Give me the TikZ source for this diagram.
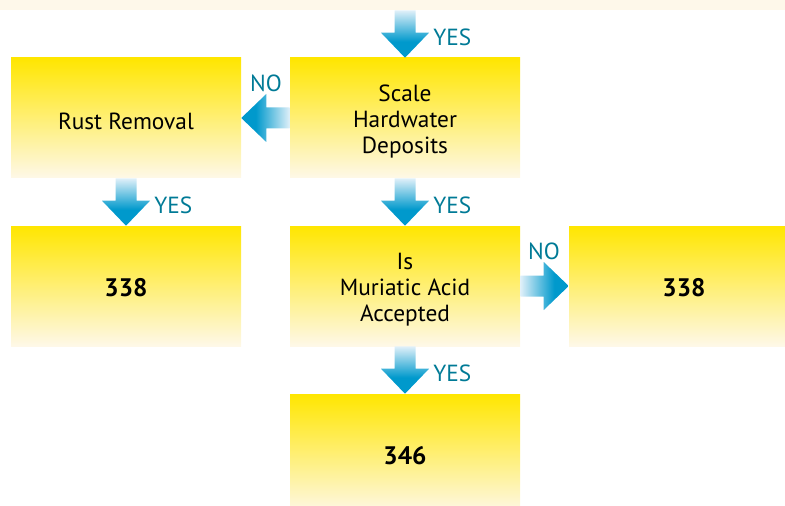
\documentclass[tikz,border=0pt]{standalone}
\usepackage{fontspec}
\setmainfont{PT Sans}
\usetikzlibrary{calc}
\definecolor{ablue}{RGB}{0,153,204}
\definecolor{alight}{RGB}{224,240,249}
\definecolor{byellow}{RGB}{255,230,0}
\definecolor{blight}{RGB}{254,248,232}
\definecolor{lbl}{RGB}{0,122,150}
\definecolor{bandc}{RGB}{254,248,234}
\pgfdeclareverticalshading{arrdn}{100bp}{color(0bp)=(ablue); color(25bp)=(ablue); color(42bp)=(ablue); color(75bp)=(alight); color(100bp)=(alight)}
\pgfdeclarehorizontalshading{arrlt}{100bp}{color(0bp)=(ablue); color(25bp)=(ablue); color(40bp)=(ablue); color(75bp)=(alight); color(100bp)=(alight)}
\pgfdeclarehorizontalshading{arrrt}{100bp}{color(0bp)=(alight); color(25bp)=(alight); color(60bp)=(ablue); color(75bp)=(ablue); color(100bp)=(ablue)}
\tikzset{
  box/.style={minimum width=172.5pt, minimum height=90pt, inner sep=0pt,
    top color=byellow, bottom color=blight},
  txt/.style={align=center, inner sep=0pt, text=black, yshift=-2.5pt,
    font=\fontsize{17.5}{19.5}\selectfont},
  num/.style={inner sep=0pt, text=black, yshift=-1.5pt,
    font=\fontsize{19}{21}\selectfont\bfseries},
  lab/.style={text=lbl, inner sep=0pt, font=\fontsize{17.5}{19.5}\selectfont},
  dnarrow/.style={shading=arrdn},
  ltarrow/.style={shading=arrlt},
  rtarrow/.style={shading=arrrt}
}
\newcommand\mydnarr[2]{%
  \shade[dnarrow] let \p1=(#1), \p2=(#2) in
    (\x1-7.875pt,\y1) -- (\x1+7.875pt,\y1) -- (\x1+7.875pt,\y2+18.75pt)
    -- (\x1+18pt,\y2+18.75pt) -- (\x1,\y2) -- (\x1-18pt,\y2+18.75pt)
    -- (\x1-7.875pt,\y2+18.75pt) -- cycle;}
\newcommand\myltarr[2]{%
  \shade[ltarrow] let \p1=(#1), \p2=(#2) in
    (\x1,\y1-7.875pt) -- (\x1,\y1+7.875pt) -- (\x2+18.75pt,\y1+7.875pt)
    -- (\x2+18.75pt,\y1+18pt) -- (\x2,\y1) -- (\x2+18.75pt,\y1-18pt)
    -- (\x2+18.75pt,\y1-7.875pt) -- cycle;}
\newcommand\myrtarr[2]{%
  \shade[rtarrow] let \p1=(#1), \p2=(#2) in
    (\x1,\y1-7.875pt) -- (\x1,\y1+7.875pt) -- (\x2-18.75pt,\y1+7.875pt)
    -- (\x2-18.75pt,\y1+18pt) -- (\x2,\y1) -- (\x2-18.75pt,\y1-18pt)
    -- (\x2-18.75pt,\y1-7.875pt) -- cycle;}
\begin{document}
\begin{tikzpicture}[x=0.75pt,y=-0.75pt]
\useasboundingbox (0,0) rectangle (785,506);
\clip (0,0) rectangle (785,506);
\node[fill=bandc, minimum width=588.75pt, minimum height=7.5pt, inner sep=0pt] (band) at (392.5,5) {};
\node[box, label={[txt]center:Rust Removal}] (rust) at (126,118) {};
\node[box, label={[txt]center:Scale\\Hardwater\\Deposits}] (scale) at (405,118) {};
\node[box, label={[num]center:338}] (l338) at (126,286) {};
\node[box, label={[txt]center:Is\\Muriatic Acid\\Accepted}] (acid) at (405,286) {};
\node[box, label={[num]center:338}] (r338) at (684,286) {};
\node[box, label={[num]center:346}] (b346) at (405,454) {};
\coordinate (t0) at (scale.north |- band.south);
\mydnarr{t0}{scale.north}
\mydnarr{rust.south}{l338.north}
\mydnarr{scale.south}{acid.north}
\mydnarr{acid.south}{b346.north}
\myltarr{scale.west}{rust.east}
\myrtarr{acid.east}{r338.west}
\node[lab, anchor=west] (y1) at (433,37) {YES};
\node[lab, anchor=west] (y2) at (154,205) {YES};
\node[lab, anchor=west] (y3) at (433,205) {YES};
\node[lab, anchor=west] (y4) at (433,373) {YES};
\node[lab] (n1) at (266,83) {NO};
\node[lab] (n2) at (544,251) {NO};
\end{tikzpicture}
\end{document}
